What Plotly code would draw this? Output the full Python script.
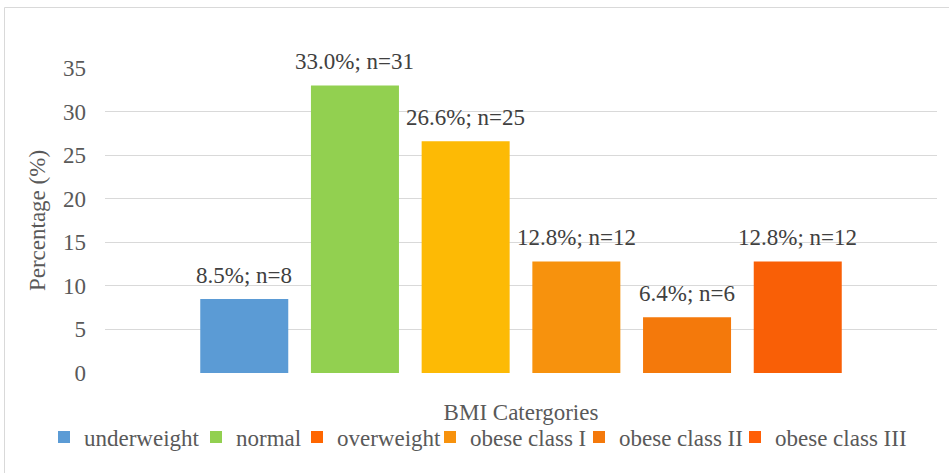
import plotly.graph_objects as go

# BMI distribution of the sample
categories = ["underweight", "normal", "overweight",
              "obese class I", "obese class II", "obese class III"]
percentages = [8.5, 33.0, 26.6, 12.8, 6.4, 12.8]
counts = [8, 31, 25, 12, 6, 12]

bar_colors = ["#5B9BD5", "#92D050", "#FDBA05", "#F7920D", "#F4790B", "#F95F06"]
legend_colors = ["#5B9BD5", "#92D050", "#FF6600", "#F7920D", "#F4790B", "#FF5F06"]
# per-entry legend spacing (px)
legend_widths = [107, 56, 88, 104, 111, 137]

y_ticks = [0, 5, 10, 15, 20, 25, 30, 35]

FONT = "Times New Roman, Liberation Serif, serif"
GREY = "#595959"

fig = go.Figure()

for i, (cat, pct, col) in enumerate(zip(categories, percentages, bar_colors)):
    fig.add_trace(go.Bar(
        x=[i], y=[pct], name=cat, width=0.795,
        marker=dict(color=col, line=dict(width=0)),
        showlegend=False, hoverinfo="name+y",
    ))

# legend entries (square swatches)
for cat, col, lw in zip(categories, legend_colors, legend_widths):
    fig.add_trace(go.Scatter(
        x=[None], y=[None], name=cat, mode="markers",
        marker=dict(symbol="square", size=12, color=col),
        legendwidth=lw,
    ))

# value labels above bars
for i, (pct, n) in enumerate(zip(percentages, counts)):
    fig.add_annotation(
        x=i, y=pct, text=f"{pct:.1f}%; n={n}", showarrow=False,
        yanchor="bottom", yshift=9,
        font=dict(family=FONT, size=23, color="#404040"),
    )

# outer chart frame
fig.add_shape(type="rect", xref="paper", yref="paper",
              x0=(4.5 - 105) / 832, x1=(990 - 105) / 832,
              y0=(373 - 520) / 305, y1=(373 - 7.5) / 305,
              line=dict(color="#D9D9D9", width=1), fillcolor="rgba(0,0,0,0)",
              layer="below")

fig.update_layout(
    width=949, height=473,
    margin=dict(l=105, r=12, t=68, b=100),
    paper_bgcolor="white", plot_bgcolor="white",
    font=dict(family=FONT, size=23, color=GREY),
    showlegend=True,
    legend=dict(orientation="h", x=(44 - 105) / 832, xanchor="left",
                y=(373 - 437) / 305, yanchor="middle",
                itemwidth=30, font=dict(family=FONT, size=23, color=GREY),
                bgcolor="rgba(0,0,0,0)"),
    xaxis=dict(range=[-1.258, 6.258], showticklabels=False, showgrid=False,
               zeroline=False, showline=False, ticks="",
               title=dict(text="BMI Catergories", standoff=30,
                          font=dict(family=FONT, size=23, color=GREY))),
    yaxis=dict(range=[0, 35], tickvals=y_ticks, showgrid=True,
               gridcolor="#D9D9D9", gridwidth=1, zeroline=False,
               showline=False, ticks="", ticklabelstandoff=18,
               tickfont=dict(family=FONT, size=23, color=GREY),
               title=dict(text="Percentage (%)", standoff=10,
                          font=dict(family=FONT, size=23, color=GREY))),
)

fig.write_html("out.html")
